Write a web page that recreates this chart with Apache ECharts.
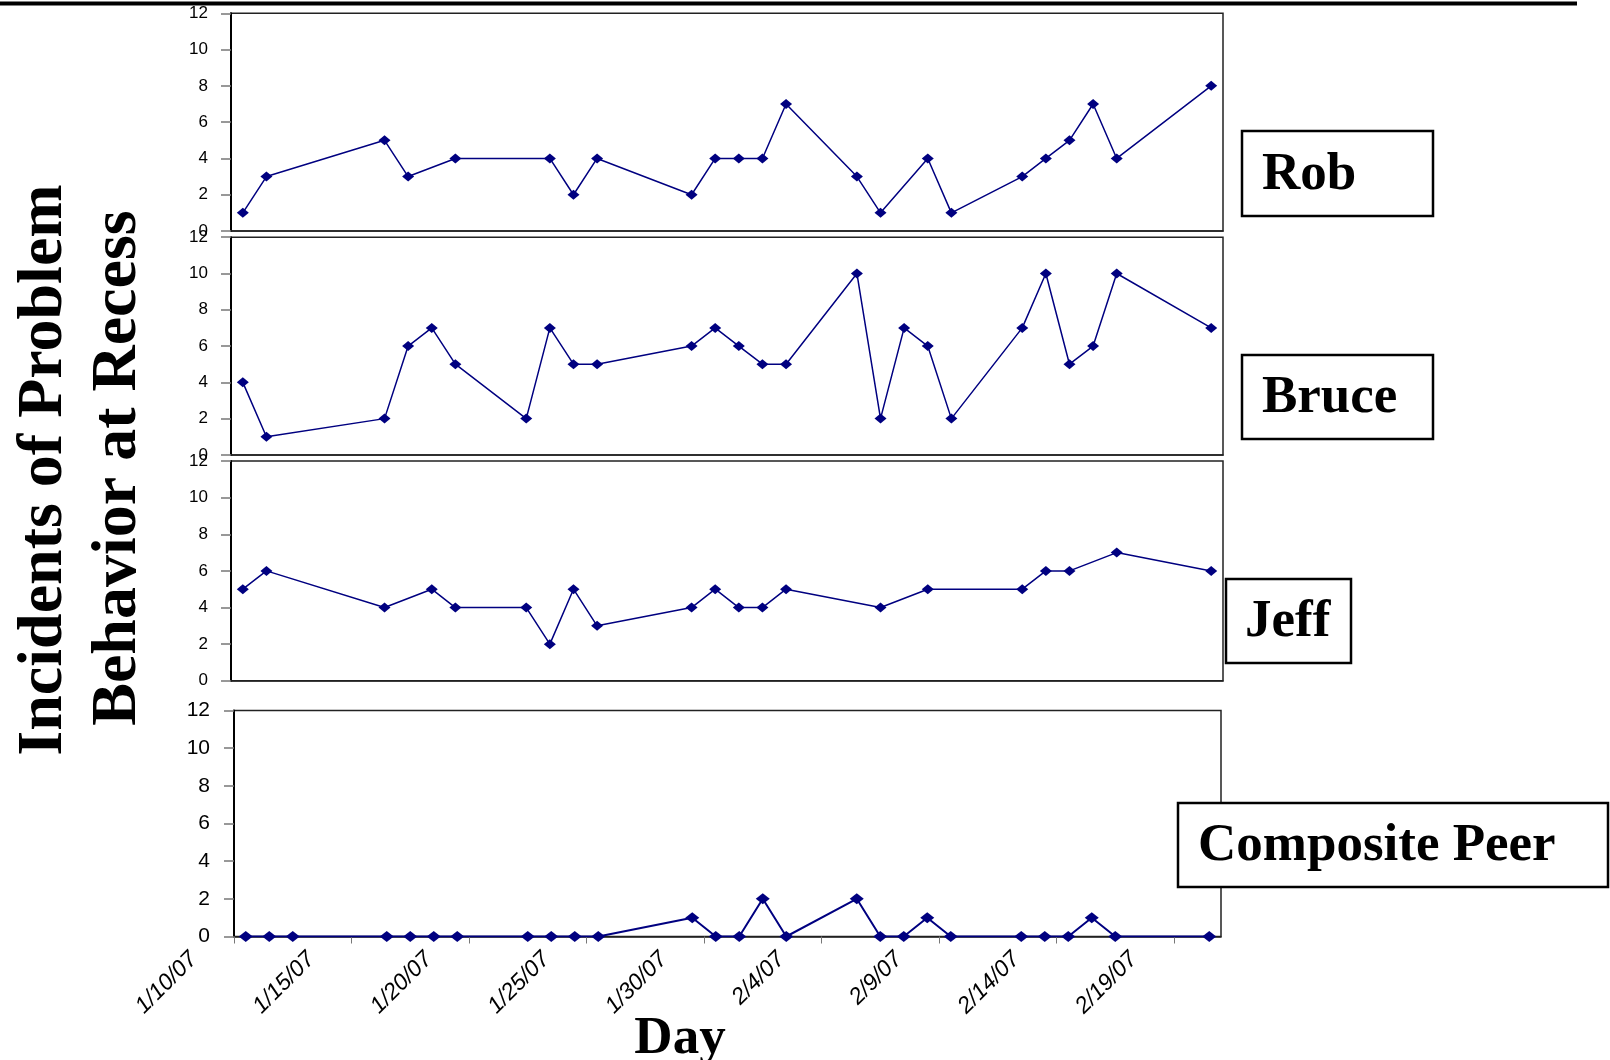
<!DOCTYPE html>
<html>
<head>
<meta charset="utf-8">
<script src="https://cdn.jsdelivr.net/npm/echarts@6/dist/echarts.min.js"></script>
<style>
html,body{margin:0;padding:0;background:#fff;}
#chart{width:1610px;height:1060px;}
</style>
</head>
<body>
<div id="chart"></div>
<script>
// ---- data ----
const dates = ['1/10/07','1/11/07','1/12/07','1/16/07','1/17/07','1/18/07','1/19/07','1/22/07','1/23/07','1/24/07','1/25/07','1/29/07','1/30/07','1/31/07','2/1/07','2/2/07','2/5/07','2/6/07','2/7/07','2/8/07','2/9/07','2/12/07','2/13/07','2/14/07','2/15/07','2/16/07','2/20/07'];
const rob       = [1,3,null,5,3,null,4,null,4,2,4,2,4,4,4,7,3,1,null,4,1,3,4,5,7,4,8];
const bruce     = [4,1,null,2,6,7,5,2,7,5,5,6,7,6,5,5,10,2,7,6,2,7,10,5,6,10,7];
const jeff      = [5,6,null,4,null,5,4,4,2,5,3,4,5,4,4,5,null,4,null,5,null,5,6,6,null,7,6];
const composite = [0,0,0,0,0,0,0,0,0,0,0,1,0,0,2,0,2,0,0,1,0,0,0,0,1,0,0];
const tickLabels = ['1/10/07','1/15/07','1/20/07','1/25/07','1/30/07','2/4/07','2/9/07','2/14/07','2/19/07'];
const yTicks = [0,2,4,6,8,10,12];
const panelNames = ['Rob','Bruce','Jeff','Composite Peer'];

// day offset from first axis date, point placed at middle of its day
function dayOffset(s){
  const p = s.split('/').map(Number);
  const t = Date.UTC(2000+p[2], p[0]-1, p[1]);
  const p0 = tickLabels[0].split('/').map(Number);
  const t0 = Date.UTC(2000+p0[2], p0[0]-1, p0[1]);
  return (t - t0)/86400000;
}
function pairs(vals){
  const out=[];
  vals.forEach((v,i)=>{ if(v!==null) out.push([dayOffset(dates[i])+0.5, v]); });
  return out;
}

const NAVY = '#000080';
const grids = [
  {left:231, top:13.3, width:992, height:217.7},
  {left:231, top:237.2, width:992, height:217.7},
  {left:231, top:461, width:992, height:219.8},
  {left:234, top:710.5, width:987, height:226}
];
const seriesVals = [rob, bruce, jeff, composite];

const option = {
  backgroundColor:'#fff',
  animation:false,
  grid: grids.map(g=>Object.assign({show:true, borderColor:'#222', borderWidth:1.5, backgroundColor:'transparent'}, g)),
  xAxis: grids.map((g,i)=>({
    type:'value', gridIndex:i, min:0, max:42, interval:5,
    splitLine:{show:false},
    axisLine:{show:true, onZero:false, lineStyle:{color:'#222', width:1.5}},
    axisTick:{show:i===3, length:7, lineStyle:{color:'#777', width:1}},
    axisLabel: i===3 ? {
      show:true, rotate:45, fontSize:23, fontStyle:'italic', fontFamily:'Liberation Sans',
      color:'#000', margin:-21, padding:[0,57,65,0], showMaxLabel:false,
      formatter:(v)=> (v%5===0 && tickLabels[v/5]) ? tickLabels[v/5] : ''
    } : {show:false}
  })),
  yAxis: grids.map((g,i)=>({
    type:'value', gridIndex:i, min:yTicks[0], max:yTicks[yTicks.length-1], interval:2,
    splitLine:{show:false},
    axisLine:{show:true, lineStyle:{color:'#000', width:2}},
    axisTick:{show:true, length:10, lineStyle:{color:'#777', width:1.5}},
    axisLabel:{show:true, fontSize: i===3?21:17, fontFamily:'Liberation Sans', color:'#000', margin: i===3?24:23,
      showMinLabel:true, showMaxLabel:true}
  })),
  series: seriesVals.map((vals,i)=>({
    name: panelNames[i], type:'line', xAxisIndex:i, yAxisIndex:i,
    data: pairs(vals), connectNulls:true,
    symbol:'diamond', symbolSize: i===3?[14,11]:[12,10], showAllSymbol:true,
    lineStyle:{color:NAVY, width: i===3?2:1.5},
    itemStyle:{color:NAVY, borderWidth:0},
    emphasis:{disabled:true}
  })),
  graphic: [
    {type:'rect', shape:{x:0,y:1.5,width:1577,height:4}, style:{fill:'#000'}, z:10},
    {type:'text', x:44, y:470, rotation:Math.PI/2, style:{text:'Incidents of Problem', font:'bold 64px "Liberation Serif"', fill:'#000', align:'center', verticalAlign:'middle'}},
    {type:'text', x:118, y:468, rotation:Math.PI/2, style:{text:'Behavior at Recess', font:'bold 64px "Liberation Serif"', fill:'#000', align:'center', verticalAlign:'middle'}},
    {type:'text', x:680, y:1039, style:{text:'Day', font:'bold 53px "Liberation Serif"', fill:'#000', align:'center', verticalAlign:'middle'}},
    // name boxes
    {type:'rect', shape:{x:1242,y:131,width:191,height:85}, style:{fill:'#fff', stroke:'#000', lineWidth:2.5}},
    {type:'text', x:1262, y:175, style:{text:panelNames[0], font:'bold 53px "Liberation Serif"', fill:'#000', align:'left', verticalAlign:'middle'}},
    {type:'rect', shape:{x:1242,y:355,width:191,height:84}, style:{fill:'#fff', stroke:'#000', lineWidth:2.5}},
    {type:'text', x:1262, y:398, style:{text:panelNames[1], font:'bold 53px "Liberation Serif"', fill:'#000', align:'left', verticalAlign:'middle'}},
    {type:'rect', shape:{x:1226,y:579,width:125,height:84}, style:{fill:'#fff', stroke:'#000', lineWidth:2.5}},
    {type:'text', x:1245, y:622, style:{text:panelNames[2], font:'bold 53px "Liberation Serif"', fill:'#000', align:'left', verticalAlign:'middle'}},
    {type:'rect', shape:{x:1178,y:803,width:430,height:84}, style:{fill:'#fff', stroke:'#000', lineWidth:2.5}},
    {type:'text', x:1198, y:846, style:{text:panelNames[3], font:'bold 53px "Liberation Serif"', fill:'#000', align:'left', verticalAlign:'middle'}}
  ]
};
const chart = echarts.init(document.getElementById('chart'), null, {renderer:'canvas'});
chart.setOption(option);
</script>
</body>
</html>
